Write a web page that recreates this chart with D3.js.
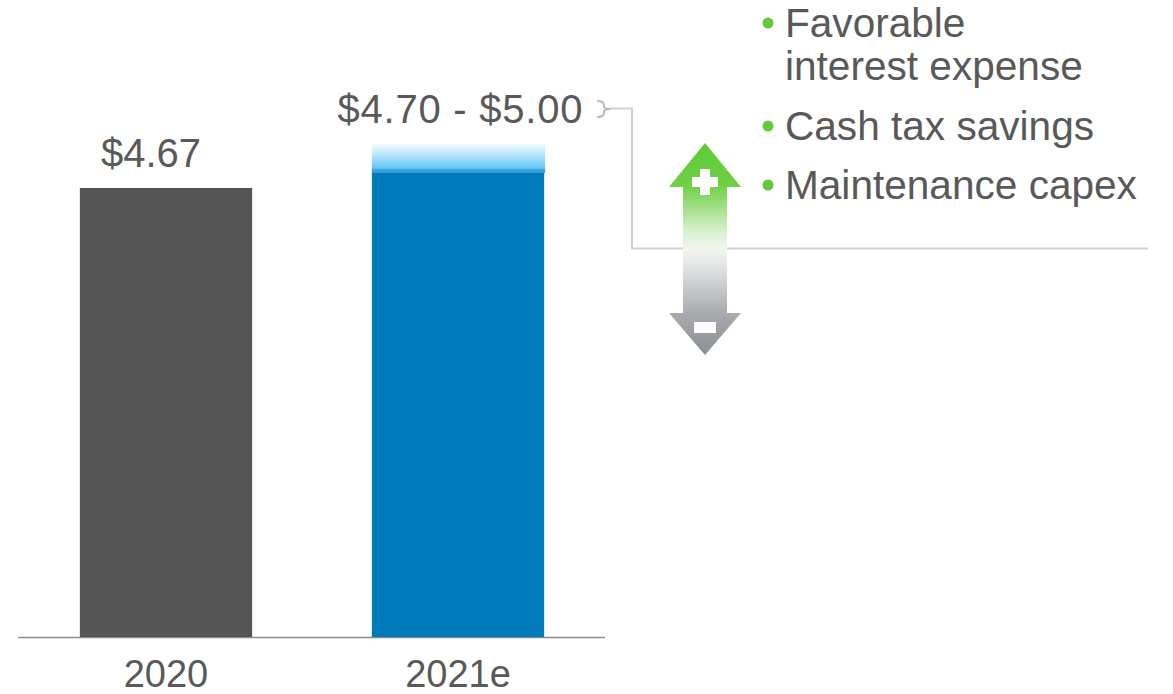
<!DOCTYPE html>
<html><head><meta charset="utf-8">
<script src="https://cdn.jsdelivr.net/npm/d3@7"></script>
<style>html,body{margin:0;padding:0;background:#fff;}svg{display:block;font-family:"Liberation Sans",Arial,sans-serif;}</style>
</head><body>
<svg id="chart" width="1173" height="694"></svg>
<script>
const categories = ["2020", "2021e"];
const actualValues = [4.67, null];
const rangeLow = [null, 4.70];
const rangeHigh = [null, 5.00];
const valueLabels = ["$4.67", "$4.70 - $5.00"];
const drivers = [["Favorable", "interest expense"], ["Cash tax savings"], ["Maintenance capex"]];

const svg = d3.select("#chart");
const defs = svg.append("defs");
const textColor = "#595959";

const x = d3.scaleBand().domain(categories).range([20, 604]).paddingInner(0.41).paddingOuter(0.205);
// illustrative (non-proportional) value axis as drawn in the source
const y = d3.scaleLinear().domain([0, 4.67, 4.70, 5.00]).range([637, 188, 173, 144]);

// gradient for the range cap
const g1 = defs.append("linearGradient").attr("id", "rangeGrad").attr("x1", 0).attr("y1", 0).attr("x2", 0).attr("y2", 1);
[[0, "#f2fbff"], [0.4, "#b4e4fc"], [0.84, "#5fc6f8"], [0.86, "#3fa8de"], [1, "#2f9ad2"]].forEach(s =>
  g1.append("stop").attr("offset", s[0]).attr("stop-color", s[1]));

// arrow gradient
const g2 = defs.append("linearGradient").attr("id", "arrowGrad").attr("gradientUnits", "userSpaceOnUse")
  .attr("x1", 0).attr("y1", 143).attr("x2", 0).attr("y2", 355);
[[0, "#5ccb34"], [0.2, "#6fd045"], [0.42, "#d9f1cf"], [0.5, "#f1f5ef"], [0.58, "#e4e5e6"], [0.8, "#a9abae"], [1, "#8b8e92"]].forEach(s =>
  g2.append("stop").attr("offset", s[0]).attr("stop-color", s[1]));

// baseline
svg.append("line").attr("x1", 18).attr("x2", 605).attr("y1", y(0) + 0.5).attr("y2", y(0) + 0.5)
  .attr("stroke", "#8c8c8c").attr("stroke-width", 1.5);

// 2020 bar
svg.append("rect").attr("x", x(categories[0])).attr("width", x.bandwidth())
  .attr("y", y(actualValues[0])).attr("height", y(0) - y(actualValues[0])).attr("fill", "#555555");

// 2021e bar: solid to low end, gradient cap to high end
svg.append("rect").attr("x", x(categories[1])).attr("width", x.bandwidth())
  .attr("y", y(rangeLow[1])).attr("height", y(0) - y(rangeLow[1])).attr("fill", "#007bb9");
svg.append("rect").attr("x", x(categories[1])).attr("width", x.bandwidth() + 1)
  .attr("y", y(rangeHigh[1])).attr("height", y(rangeLow[1]) - y(rangeHigh[1])).attr("fill", "url(#rangeGrad)");

// value labels
svg.append("text").attr("x", x(categories[0]) + x.bandwidth() / 2 - 15).attr("y", 167)
  .attr("text-anchor", "middle").attr("font-size", 40).attr("fill", textColor).text(valueLabels[0]);
svg.append("text").attr("x", x(categories[1]) + x.bandwidth() / 2 + 2).attr("y", 123)
  .attr("text-anchor", "middle").attr("font-size", 40).attr("fill", textColor)
  .attr("textLength", 245).attr("lengthAdjust", "spacing").text(valueLabels[1]);

// category labels
svg.selectAll("text.cat").data(categories).join("text").attr("class", "cat")
  .attr("x", d => x(d) + x.bandwidth() / 2).attr("y", 687)
  .attr("text-anchor", "middle").attr("font-size", 38).attr("fill", textColor).text(d => d);

// brace + connector
svg.append("path").attr("d", "M597,101 Q604,101 604,105 L604,106 Q604,109 610,109 Q604,109 604,112 L604,113 Q604,117 597,117")
  .attr("fill", "none").attr("stroke", "#b8b8b8").attr("stroke-width", 2);
svg.append("path").attr("d", "M610,108.5 L632,108.5 L632,248.5 L1148,248.5")
  .attr("fill", "none").attr("stroke", "#d0d0d0").attr("stroke-width", 2);

// double arrow
const cx = 705;
svg.append("path").attr("d",
  `M${cx},143 L${cx + 36},187 L${cx + 22},187 L${cx + 22},313 L${cx + 36},313 L${cx},355 L${cx - 36},313 L${cx - 22},313 L${cx - 22},187 L${cx - 36},187 Z`)
  .attr("fill", "url(#arrowGrad)");
// plus
svg.append("rect").attr("x", cx - 13).attr("y", 177).attr("width", 26).attr("height", 10).attr("fill", "#fff");
svg.append("rect").attr("x", cx - 5).attr("y", 169).attr("width", 10).attr("height", 26).attr("fill", "#fff");
// minus
svg.append("rect").attr("x", cx - 11).attr("y", 322).attr("width", 22).attr("height", 11).attr("fill", "#fff");

// driver bullets
const bulletY = [37, 140, 199];
drivers.forEach((lines, i) => {
  svg.append("circle").attr("cx", 768).attr("cy", bulletY[i] - 14).attr("r", 5.5).attr("fill", "#62c83c");
  lines.forEach((t, j) => {
    svg.append("text").attr("x", 785).attr("y", bulletY[i] + j * 43)
      .attr("font-size", 40.6).attr("fill", textColor).text(t);
  });
});
</script>
</body></html>
